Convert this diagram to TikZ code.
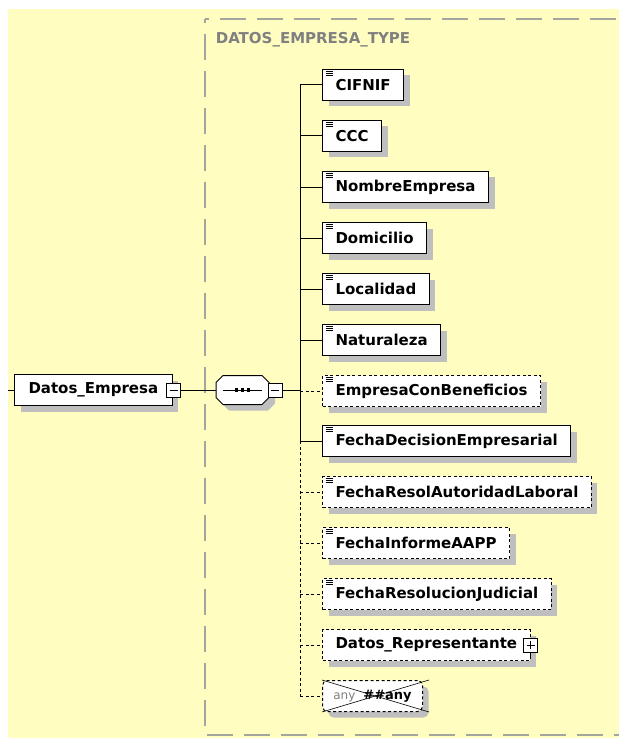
\documentclass[tikz,border=0pt]{standalone}
\usepackage{fontspec}
\setsansfont{DejaVu Sans}
\usetikzlibrary{shadows}
\definecolor{bgyellow}{RGB}{255,253,192}
\definecolor{framegray}{RGB}{165,165,160}
\definecolor{titlegray}{RGB}{128,128,128}
\newcommand{\elemfont}{\sffamily\bfseries\fontsize{15}{18}\selectfont}

\begin{document}
\begin{tikzpicture}[x=1pt,y=-1pt,line width=1pt,
  shade/.style={drop shadow={shadow xshift=6pt,shadow yshift=-6pt,fill=black!25,opacity=1}},
  box/.style={draw,fill=white,shade,anchor=west,minimum height=31pt,inner xsep=13pt,inner ysep=0pt,font=\elemfont},
  elem/.style={box,path picture={\foreach \d in {2,4,6} \draw[solid,line width=0.8pt] ([shift={(3pt,-\d pt)}]path picture bounding box.north west) -- ++(7pt,0pt);}},
  opt/.style={dash pattern=on 3pt off 2.5pt},
  toggle/.style={draw,fill=white,solid,line width=0.8pt,minimum size=14pt,inner sep=0pt},
  minus/.style={toggle,path picture={\draw[line width=0.8pt] ([xshift=3pt]path picture bounding box.west) -- ([xshift=-3pt]path picture bounding box.east);}},
  plus/.style={toggle,path picture={\draw[line width=0.8pt] ([xshift=3pt]path picture bounding box.west) -- ([xshift=-3pt]path picture bounding box.east);
    \draw[line width=0.8pt] ([yshift=-3pt]path picture bounding box.north) -- ([yshift=3pt]path picture bounding box.south);}}]
\useasboundingbox (0,0) rectangle (619,738);
\fill[white] (0,0) rectangle (619,738);
\fill[bgyellow] (8,9) rectangle (619,738);
\draw[framegray,line width=1.6pt,dash pattern=on 26pt off 11pt,dash phase=22pt] (205,19) -- (619,19);
\draw[framegray,line width=1.6pt,dash pattern=on 26pt off 11pt,dash phase=22pt] (205,19) -- (205,735) -- (619,735);
\node[anchor=west,text=titlegray,font=\elemfont] (title) at (212,40) {DATOS\_EMPRESA\_TYPE};

\node[box,inner xsep=14pt] (datos) at (14,390) {Datos\_Empresa\hspace{4pt}};
\node[minus] (dmin) at ([xshift=1pt]datos.east) {};
% sequence compositor, drawn as an octagon round an empty node
\node[minimum width=52pt,minimum height=28pt,inner sep=0pt,anchor=west] (seq) at (216,390) {};
\draw[fill=white,shade] ([xshift=7pt]seq.north west) -- ([xshift=-7pt]seq.north east) -- ([yshift=-7pt]seq.north east)
  -- ([yshift=7pt]seq.south east) -- ([xshift=-7pt]seq.south east) -- ([xshift=7pt]seq.south west)
  -- ([yshift=7pt]seq.south west) -- ([yshift=-7pt]seq.north west) -- cycle;
\draw[line width=0.8pt] ([xshift=7pt]seq.west) -- ([xshift=-7pt]seq.east);
\fill ([xshift=-6pt]seq.center) ++(-1.8pt,-1.8pt) rectangle ++(3.6pt,3.6pt);
\fill (seq.center) ++(-1.8pt,-1.8pt) rectangle ++(3.6pt,3.6pt);
\fill ([xshift=6pt]seq.center) ++(-1.8pt,-1.8pt) rectangle ++(3.6pt,3.6pt);
\node[minus,anchor=west] (smin) at ([xshift=-1pt]seq.east) {};
\coordinate (lead) at (8,390);
\coordinate (tr) at (300,390);

\node[elem] (cifnif) at (322,85) {CIFNIF};
\node[elem] (ccc) at (322,136) {CCC};
\node[elem] (nombre) at (322,187) {NombreEmpresa};
\node[elem] (domicilio) at (322,238) {Domicilio};
\node[elem] (localidad) at (322,289) {Localidad};
\node[elem] (naturaleza) at (322,340) {Naturaleza};
\node[elem,opt] (benef) at (322,391) {EmpresaConBeneficios};
\node[elem] (fdec) at (322,441) {FechaDecisionEmpresarial};
\node[elem,opt] (fresol) at (322,492) {FechaResolAutoridadLaboral};
\node[elem,opt] (finforme) at (322,543) {FechaInformeAAPP};
\node[elem,opt] (fjudicial) at (322,594) {FechaResolucionJudicial};
\node[box,opt] (repr) at (322,645) {Datos\_Representante\hspace{7pt}};
\node[plus] (rplus) at (repr.east) {};
\node[box,opt,rounded corners=5pt,minimum width=100pt,inner xsep=6pt] (any) at (322,696)
  {{\color{titlegray}\fontsize{12}{14}\selectfont\mdseries any}\hspace{8pt}{\fontsize{13}{15}\selectfont\#\#any}};
\draw[line width=0.6pt] (any.north west) -- ([xshift=6pt]any.south east);
\draw[line width=0.6pt] (any.south west) -- ([xshift=6pt]any.north east);
\draw[line width=0.8pt] (rplus.south) -- ++(0,4);

\draw (lead) -- (datos.west);
\draw (dmin.east) -- (seq.west);
\draw (smin.east) -- (tr);
\draw (tr |- cifnif.west) -- (tr |- fdec.west);
\draw[opt] (tr |- fdec.west) -- (tr |- any.west);
\draw (tr |- cifnif.west) -- (cifnif.west);
\draw (tr |- ccc.west) -- (ccc.west);
\draw (tr |- nombre.west) -- (nombre.west);
\draw (tr |- domicilio.west) -- (domicilio.west);
\draw (tr |- localidad.west) -- (localidad.west);
\draw (tr |- naturaleza.west) -- (naturaleza.west);
\draw[opt] (tr |- benef.west) -- (benef.west);
\draw (tr |- fdec.west) -- (fdec.west);
\draw[opt] (tr |- fresol.west) -- (fresol.west);
\draw[opt] (tr |- finforme.west) -- (finforme.west);
\draw[opt] (tr |- fjudicial.west) -- (fjudicial.west);
\draw[opt] (tr |- repr.west) -- (repr.west);
\draw[opt] (tr |- any.west) -- (any.west);
\end{tikzpicture}
\end{document}
